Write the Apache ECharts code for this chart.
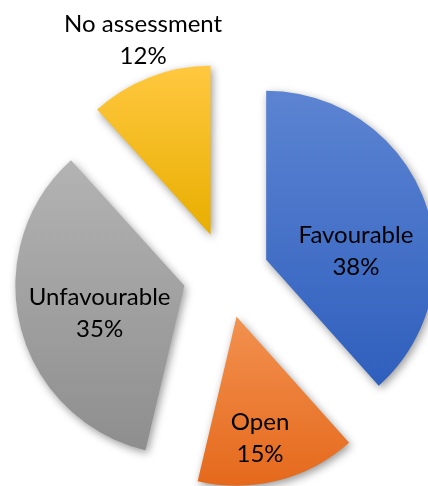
<!DOCTYPE html>
<html>
<head>
<meta charset="utf-8">
<script src="https://cdn.jsdelivr.net/npm/echarts@6/dist/echarts.min.js"></script>
<style>
html,body{margin:0;padding:0;background:#fff;}
#chart{width:428px;height:486px;}
</style>
</head>
<body>
<div id="chart"></div>
<script>
const categories = ['Favourable', 'Open', 'Unfavourable', 'No assessment'];
const values = [38.4, 15.3, 34.6, 11.7];
const gradTop = ['#5c84d2', '#f2914f', '#b3b3b3', '#ffc83f'];
const gradBottom = ['#2f5fbd', '#e5691c', '#8e8e8e', '#e8ae00'];
const labelShift = [[8, 23], [2, 37], [0, 6], [-36, -113]];

const chart = echarts.init(document.getElementById('chart'), null, {renderer: 'canvas'});
const data = categories.map((name, i) => ({
  name: name,
  value: values[i],
  selected: true,
  itemStyle: {
    color: new echarts.graphic.LinearGradient(0, 0, 0, 1, [
      {offset: 0, color: gradTop[i]},
      {offset: 1, color: gradBottom[i]}
    ])
  }
}));

chart.setOption({
  animation: false,
  series: [{
    type: 'pie',
    center: [226, 275],
    radius: [0, 169],
    startAngle: 90,
    clockwise: true,
    selectedMode: 'multiple',
    selectedOffset: 43,
    percentPrecision: 0,
    avoidLabelOverlap: false,
    data: data,
    itemStyle: {
      borderWidth: 0,
      shadowBlur: 8,
      shadowOffsetX: 2,
      shadowOffsetY: 3,
      shadowColor: 'rgba(0,0,0,0.4)'
    },
    label: {
      show: true,
      position: 'inside',
      formatter: '{b}\n{d}%',
      color: '#000',
      fontFamily: 'Lato',
      fontSize: 24,
      lineHeight: 32,
      align: 'center'
    },
    labelLayout: function (params) {
      const s = labelShift[params.dataIndex];
      return {dx: s[0], dy: s[1]};
    },
    labelLine: {show: false},
    emphasis: {disabled: true},
    select: {itemStyle: {borderWidth: 0}}
  }]
});
</script>
</body>
</html>
